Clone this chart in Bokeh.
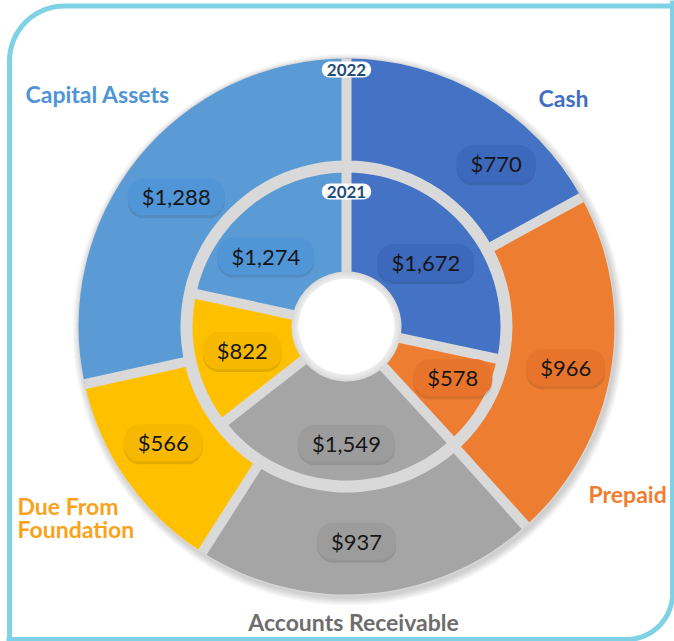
import numpy as np
from bokeh.plotting import figure
from bokeh.models import Range1d, ColumnDataSource
from bokeh.core.properties import value
from bokeh.embed import file_html
from bokeh.resources import INLINE

# ---------------- data ----------------
categories = ["Cash", "Prepaid", "Accounts Receivable", "Due From Foundation", "Capital Assets"]
values_2022 = [770, 966, 937, 566, 1288]
values_2021 = [1672, 578, 1549, 822, 1274]
colors = ["#4472c4", "#ed7d31", "#a5a5a5", "#ffc000", "#5b9bd5"]
pill_colors = ["#3d69bd", "#e8742b", "#9c9c9c", "#f6b900", "#5095d6"]
label_colors = ["#3f6fc2", "#f07e2e", "#6d6d6d", "#f9a21a", "#4f94d6"]
years = ["2022", "2021"]

# ---------------- layout constants (image pixel space) ----------------
W, H = 674, 641
def Y(v):
    return H - v

CX, CY = 346, Y(326)
R_OUT, R_OUT_IN = 268, 166
R_IN_OUT, R_IN_IN, R_HOLE = 154, 55, 48
GAP = "#d9d9d9"
# label placement tweaks (degrees / pixels)
out_shift = [-12, -1, -2, -2.5, 1.5]
out_rad = [221, 223, 215, 217, 214]
in_shift = [0, 4, 4.7, 0, 10]
in_rad = [102, 118, 117, 107, 107]

p = figure(width=W, height=H, x_range=Range1d(0, W), y_range=Range1d(0, H),
           output_backend="svg", toolbar_location=None, min_border=0,
           x_axis_location=None, y_axis_location=None, outline_line_color=None,
           background_fill_color="white", border_fill_color="white")
p.grid.visible = False

# frame with rounded corners (top-left & bottom-right)
def arc(cx, cy, r, a0, a1, n=24):
    t = np.linspace(a0, a1, n)
    return list(cx + r * np.cos(t)), list(cy + r * np.sin(t))
L, T, Rr, B = 9.0, Y(5.5), 672.0, Y(639.0)
r1, r2 = 55, 46
ax, ay = arc(L + r1, T - r1, r1, np.pi, np.pi / 2)
p.line([L] + ax + [W + 10], [B - 10] + ay + [T], line_color="#7fd2e6", line_width=5)
bx, by = arc(Rr - r2, B + r2, r2, 0, -np.pi / 2)
p.line([Rr] + bx + [L - 3], [T + 10] + by + [B], line_color="#7fd2e6", line_width=5)

# soft shadow
for k in range(1, 9):
    p.circle(x=CX + 2, y=CY - 3, radius=R_OUT + k, fill_color="black",
             fill_alpha=0.022, line_color=None)
p.circle(x=CX, y=CY, radius=R_OUT + 1, fill_color=GAP, line_color=None)

def ring(vals, r_in, r_out):
    vals = np.array(vals, dtype=float)
    frac = np.concatenate([[0], np.cumsum(vals)]) / vals.sum()
    ang = np.pi / 2 - 2 * np.pi * frac
    start, end = ang[1:], ang[:-1]
    src = ColumnDataSource(dict(start=start, end=end, color=colors))
    p.annular_wedge(x=CX, y=CY, inner_radius=r_in, outer_radius=r_out,
                    start_angle="start", end_angle="end", fill_color="color",
                    line_color=None, source=src)
    return ang

ang_out = ring(values_2022, R_OUT_IN, R_OUT)
ang_in = ring(values_2021, R_IN_IN, R_IN_OUT)

# gaps between slices
for a in ang_out[:-1]:
    p.line([CX + (R_OUT_IN - 6) * np.cos(a), CX + R_OUT * np.cos(a)],
           [CY + (R_OUT_IN - 6) * np.sin(a), CY + R_OUT * np.sin(a)],
           line_color=GAP, line_width=10)
for a in ang_in[:-1]:
    p.line([CX + R_HOLE * np.cos(a), CX + (R_IN_OUT + 4) * np.cos(a)],
           [CY + R_HOLE * np.sin(a), CY + (R_IN_OUT + 4) * np.sin(a)],
           line_color=GAP, line_width=10)

# hole
for k in range(6, 0, -1):
    p.circle(x=CX, y=CY, radius=R_HOLE + k, fill_color="white",
             fill_alpha=0.12, line_color=None)
p.circle(x=CX, y=CY, radius=R_HOLE, fill_color="white", line_color=None)

# value labels
def labels(vals, ang, shift, rad):
    mid = (ang[:-1] + ang[1:]) / 2 + np.radians(shift)
    r = np.array(rad, dtype=float)
    x = CX + r * np.cos(mid)
    y = CY + r * np.sin(mid)
    txt = ["$" + format(v, ",") for v in vals]
    sh = ColumnDataSource(dict(x=x, y=y - 3, t=txt))
    p.text(x="x", y="y", text="t", source=sh, text_alpha=0,
           text_font=value("Lato"), text_font_size="22px",
           text_align="center", text_baseline="middle",
           background_fill_color="black", background_fill_alpha=0.10,
           padding=(14, 5), border_radius=16)
    src = ColumnDataSource(dict(x=x, y=y, t=txt, bg=pill_colors))
    p.text(x="x", y="y", text="t", source=src, text_color="#161616",
           text_font=value("Lato"), text_font_size="22px",
           text_align="center", text_baseline="middle",
           background_fill_color="bg", padding=(14, 5), border_radius=16)

labels(values_2022, ang_out, out_shift, out_rad)
labels(values_2021, ang_in, in_shift, in_rad)

# year pills
yr = ColumnDataSource(dict(x=[CX, CX], y=[Y(69), Y(191)], t=years))
p.text(x="x", y="y", text="t", source=yr, text_color="#1f4e79",
       text_font=value("Lato"), text_font_size="17px", text_font_style="bold",
       text_align="center", text_baseline="middle",
       background_fill_color="white", padding=(5, 2), border_radius=10)

# category labels
cat_x = [538, 588, 353, 17, 25]
cat_y = [Y(97), Y(493), Y(621), Y(505), Y(93)]
cat_align = ["left", "left", "center", "left", "left"]
cat_text = ["Cash", "Prepaid", "Accounts Receivable", "Due From", "Capital Assets"]
src = ColumnDataSource(dict(x=cat_x, y=cat_y, t=cat_text, c=label_colors, a=cat_align))
p.text(x="x", y="y", text="t", text_color="c", text_align="a", source=src,
       text_font=value("Lato"), text_font_size="23px", text_font_style="bold",
       text_baseline="middle")
p.text(x=[17], y=[Y(528)], text=["Foundation"], text_color=label_colors[3],
       text_font=value("Lato"), text_font_size="23px", text_font_style="bold",
       text_baseline="middle", text_align="left")

open("out.html", "w").write(file_html(p, INLINE))
